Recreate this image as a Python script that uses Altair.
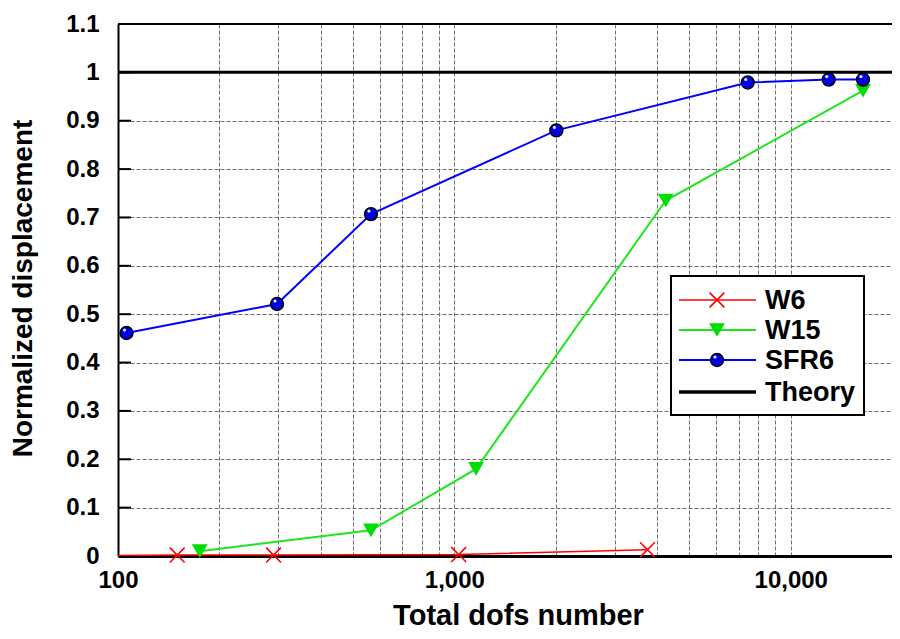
import altair as alt
import pandas as pd

# ---------------- data ----------------
w6_x = [60, 150, 290, 1030, 3750]
w6_y = [0.0, 0.002, 0.002, 0.003, 0.013]

w15_x = [175, 565, 1160, 4250, 16400]
w15_y = [0.01, 0.053, 0.18, 0.735, 0.962]

sfr6_x = [106, 297, 565, 2010, 7450, 12970, 16400]
sfr6_y = [0.461, 0.521, 0.707, 0.880, 0.979, 0.985, 0.985]

theory_x = [100, 20000]
theory_y = [1.0, 1.0]

series_names = ["W6", "W15", "SFR6", "Theory"]

x_grid_vals = [100, 200, 300, 400, 500, 600, 700, 800, 900,
               1000, 2000, 3000, 4000, 5000, 6000, 7000, 8000, 9000,
               10000, 20000]
x_label_vals = [100, 1000, 10000]
y_tick_vals = [0, 0.1, 0.2, 0.3, 0.4, 0.5, 0.6, 0.7, 0.8, 0.9, 1.0, 1.1]

FONT = "Liberation Sans"
W, H = 774, 532
PAD_L, PAD_T, PAD_R, PAD_B = 110, 16, 0, 75

df_w6 = pd.DataFrame({"x": w6_x, "y": w6_y})
df_w15 = pd.DataFrame({"x": w15_x, "y": w15_y})
df_sfr6 = pd.DataFrame({"x": sfr6_x, "y": sfr6_y})
df_th = pd.DataFrame({"x": theory_x, "y": theory_y})
df_yt = pd.DataFrame({"y": y_tick_vals})

xscale = alt.Scale(type="log", domain=[100, 20000], nice=False)
yscale = alt.Scale(domain=[0, 1.1], nice=False, zero=False)

label_expr = " || ".join(f"datum.value == {v}" for v in x_label_vals)
label_expr = f"({label_expr}) ? format(datum.value, ',') : ''"

GRID_COL = "#555555"
x_axis = alt.Axis(
    values=x_grid_vals, labelExpr=label_expr, title="Total dofs number",
    grid=True, gridDash=[4, 2], gridColor=GRID_COL, gridWidth=1, gridOpacity=0.85,
    ticks=False, domain=True, domainColor="black", domainWidth=3,
    labelFont=FONT, labelFontSize=24, labelFontWeight="bold", labelColor="black",
    labelPadding=12, labelFlush=False, labelOverlap=False,
    titleFont=FONT, titleFontSize=29, titleFontWeight="bold", titleColor="black",
    titleX=400, titleY=68, titleBaseline="alphabetic", titleAlign="center",
)
y_axis = alt.Axis(
    values=y_tick_vals, format=".1~f", title="Normalized displacement",
    grid=True, gridDash=[4, 2], gridColor=GRID_COL, gridWidth=1, gridOpacity=0.85,
    ticks=False, domain=True, domainColor="black", domainWidth=2,
    labelFont=FONT, labelFontSize=24, labelFontWeight="bold", labelColor="black",
    labelPadding=19,
    titleFont=FONT, titleFontSize=28, titleFontWeight="bold", titleColor="black",
    titleX=-95, titleY=264, titleAngle=270, titleBaseline="middle", titleAlign="center",
)

X = alt.X("x:Q", scale=xscale, axis=x_axis)
Y = alt.Y("y:Q", scale=yscale, axis=y_axis)
Xn = alt.X("x:Q", scale=xscale)
Yn = alt.Y("y:Q", scale=yscale)

theory = alt.Chart(df_th).mark_line(color="black", strokeWidth=3, clip=True).encode(x=X, y=Y)

top_border = alt.Chart(df_yt).transform_filter("datum.y == 1.1").mark_rule(
    color="black", strokeWidth=2).encode(y=Yn)

y_inner_ticks = alt.Chart(df_yt).mark_rule(color="black", strokeWidth=2).encode(
    y=Yn, x=alt.value(0), x2=alt.value(13))

x_path = "M-1,-1L1,1M-1,1L1,-1"

w6_line = alt.Chart(df_w6).mark_line(color="#ff0000", strokeWidth=1.5, clip=True).encode(x=Xn, y=Yn)
w6_pts = alt.Chart(df_w6).transform_filter("datum.x >= 100").mark_point(
    shape=x_path, size=220, filled=False, color="#ff0000", strokeWidth=1.6, opacity=1
).encode(x=Xn, y=Yn)

w15_line = alt.Chart(df_w15).mark_line(color="#1ee61e", strokeWidth=2, clip=True).encode(x=Xn, y=Yn)
w15_pts = alt.Chart(df_w15).mark_point(
    shape="triangle-down", size=250, filled=True, color="#00dd00", opacity=1
).encode(x=Xn, y=Yn)

sfr6_line = alt.Chart(df_sfr6).mark_line(color="#0000ff", strokeWidth=2, clip=True).encode(x=Xn, y=Yn)
sfr6_pts = alt.Chart(df_sfr6).mark_point(
    shape="circle", size=165, filled=True, fill="#0000e6", stroke="black", strokeWidth=1.5, opacity=1
).encode(x=Xn, y=Yn)
sfr6_hl = alt.Chart(df_sfr6).mark_point(
    shape="circle", size=10, filled=True, color="white", opacity=0.9, xOffset=-2, yOffset=-3
).encode(x=Xn, y=Yn)

# ---------------- legend (manual) ----------------
lg_x0, lg_x1, lg_y0, lg_y1 = 553, 746, 252, 391
row_y = [276, 306, 336, 368]
line_x0, line_x1, mark_x, text_x = 561, 638, 599, 647

df_lg = pd.DataFrame({"label": series_names})

legend_layers = [
    alt.Chart(df_lg).transform_filter("datum.label == 'W6'").mark_rect(
        fill="white", stroke="black", strokeWidth=2).encode(
        x=alt.value(lg_x0), x2=alt.value(lg_x1), y=alt.value(lg_y0), y2=alt.value(lg_y1))
]
line_styles = {
    "W6": ("#ff0000", 1.5),
    "W15": ("#1ee61e", 2),
    "SFR6": ("#0000ff", 2),
    "Theory": ("black", 3.5),
}
for name, ry in zip(series_names, row_y):
    col, sw = line_styles[name]
    sub = alt.Chart(df_lg).transform_filter(f"datum.label == '{name}'")
    legend_layers.append(sub.mark_rule(color=col, strokeWidth=sw).encode(
        x=alt.value(line_x0), x2=alt.value(line_x1), y=alt.value(ry)))
    if name == "W6":
        legend_layers.append(sub.mark_point(shape=x_path, size=220, filled=False, color="#ff0000",
                                            strokeWidth=1.6, opacity=1).encode(
            x=alt.value(mark_x), y=alt.value(ry)))
    elif name == "W15":
        legend_layers.append(sub.mark_point(shape="triangle-down", size=250, filled=True,
                                            color="#00dd00", opacity=1).encode(
            x=alt.value(mark_x), y=alt.value(ry)))
    elif name == "SFR6":
        legend_layers.append(sub.mark_point(shape="circle", size=165, filled=True, fill="#0000e6",
                                            stroke="black", strokeWidth=1.5, opacity=1).encode(
            x=alt.value(mark_x), y=alt.value(ry)))
        legend_layers.append(sub.mark_point(shape="circle", size=10, filled=True, color="white",
                                            opacity=0.9, xOffset=-2, yOffset=-3).encode(
            x=alt.value(mark_x), y=alt.value(ry)))
    legend_layers.append(sub.mark_text(align="left", baseline="middle", font=FONT, fontSize=27,
                                       fontWeight="bold", color="black").encode(
        x=alt.value(text_x), y=alt.value(ry + 1), text="label:N"))

chart = alt.layer(
    theory, top_border, y_inner_ticks,
    w6_line, w6_pts, w15_line, w15_pts, sfr6_line, sfr6_pts, sfr6_hl,
    *legend_layers
).properties(
    width=W, height=H,
    autosize=alt.AutoSizeParams(type="none"),
    padding={"left": PAD_L, "top": PAD_T, "right": PAD_R, "bottom": PAD_B},
).configure_view(stroke=None).configure(background="white")

chart.save("out.html", embed_options={"renderer": "svg", "actions": False})
